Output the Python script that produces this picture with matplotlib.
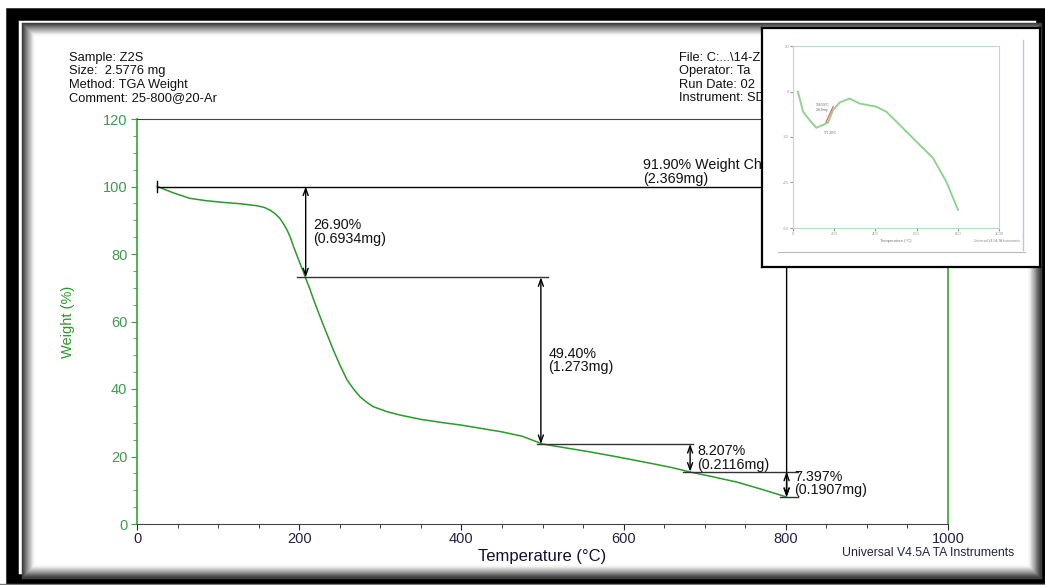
import matplotlib.pyplot as plt
from matplotlib.patches import Rectangle

plt.rcParams['font.family'] = ['Liberation Sans', 'DejaVu Sans']

# datos de la curva TGA (temperatura en C, peso en %)
temp = [25, 45, 65, 85, 106, 127, 148, 157, 164, 170, 176, 180, 185, 189, 193,
        197, 201, 205, 208, 213, 218, 224, 230, 236, 242, 250, 259, 267, 275,
        283, 291, 300, 308, 316, 324, 350, 375, 400, 425, 450, 475, 500, 530,
        560, 592, 633, 660, 682, 710, 740, 770, 801]
peso = [100, 98.1, 96.5, 95.8, 95.3, 94.9, 94.3, 93.8, 93.0, 92.0, 90.6, 89.2,
        87.1, 85.0, 82.2, 79.7, 77.2, 74.8, 72.8, 69.7, 66.3, 62.5, 58.8, 55.2,
        51.6, 47.2, 42.7, 40.0, 37.7, 36.1, 34.8, 34.0, 33.3, 32.8, 32.3, 31.0,
        30.1, 29.3, 28.3, 27.3, 26.0, 23.7, 22.5, 21.3, 19.9, 18.0, 16.7, 15.4,
        14.0, 12.4, 10.3, 8.0]

# pasos de perdida de peso
pasos_x = [208, 498, 682, 801]
pasos_y = [100, 73.1, 23.7, 15.5, 8.0]
pasos_txt = ['26.90%\n(0.6934mg)', '49.40%\n(1.273mg)', '8.207%\n(0.2116mg)', '7.397%\n(0.1907mg)']
total_txt = '91.90% Weight Ch\n(2.369mg)'

# curva DTG del recuadro
dtg_x = [24, 49, 81, 113, 146, 170, 194, 227, 275, 324, 405, 453, 518, 583, 680, 744, 801]
dtg_y = [-0.1, -8.9, -12.6, -15.9, -14.7, -13.6, -8.2, -4.8, -3.1, -5.3, -6.7,
         -8.9, -14.7, -20.6, -29.3, -39.6, -52.0]

cabecera_izq = ['Sample: Z2S', 'Size:  2.5776 mg', 'Method: TGA Weight', 'Comment: 25-800@20-Ar']
cabecera_der = ['File: C:...\\14-Z2S.001', 'Operator: Ta', 'Run Date: 02', 'Instrument: SDT Q600']

W, H = 1045, 585
fig = plt.figure(figsize=(W / 100, H / 100), dpi=100)

# fondo con marcos (coordenadas en pixeles)
bg = fig.add_axes([0, 0, 1, 1], zorder=-1)
bg.set_xlim(0, W)
bg.set_ylim(H, 0)
bg.axis('off')
bg.add_patch(Rectangle((12, 14), 1030, 566, fill=False, ec='black', lw=9))
for i in range(12):
    g = 0.25 + 0.065 * i
    bg.add_patch(Rectangle((23 + i, 24 + i), 1017 - 2 * i, 553 - 2 * i, fill=False,
                           ec=(g, g, g), lw=1.2 if i else 2.5))
bg.plot([0, W], [584, 584], color='#777777', lw=1)

for i, t in enumerate(cabecera_izq):
    bg.text(69, 58 + 13.4 * i, t, fontsize=9.3, va='center', color='#111111')
for i, t in enumerate(cabecera_der):
    bg.text(679, 58 + 13.4 * i, t, fontsize=9.3, va='center', color='#111111')
bg.text(842, 553, 'Universal V4.5A TA Instruments', fontsize=8.8, va='center', color='#222244')

# grafico principal
ax = fig.add_axes([137 / W, (H - 524) / H, 811 / W, 405 / H])
ax.patch.set_alpha(0)
ax.plot(temp, peso, color='#2a9a2a', lw=1.1)
ax.set_xlim(0, 1000)
ax.set_ylim(0, 120)
ax.set_xticks([0, 200, 400, 600, 800, 1000])
ax.set_xticks(range(50, 1000, 50), minor=True)
ax.set_yticks(range(0, 121, 20))
ax.set_yticks(range(0, 121, 5), minor=True)
ax.tick_params(axis='x', colors='#222244', labelsize=10.5, length=4, pad=2)
ax.tick_params(axis='x', which='minor', length=3, color='#222222')
ax.tick_params(axis='y', labelcolor='#3f9a50', color='#3aa33a', labelsize=10.5, length=4, pad=3)
ax.tick_params(axis='y', which='minor', length=3, color='#3aa33a')
for s in ['left', 'right']:
    ax.spines[s].set_color('#2ea82e')
    ax.spines[s].set_linewidth(1.2)
for s in ['top', 'bottom']:
    ax.spines[s].set_color('#444444')
ax.set_xlabel('Temperature (°C)', fontsize=12, color='#111133', labelpad=2)
ax.set_ylabel('Weight (%)', fontsize=10.5, color='#2a9a2a', labelpad=20)

flecha = dict(arrowstyle='<->,head_length=0.5,head_width=0.18', color='black', lw=1,
              shrinkA=0, shrinkB=0)

# linea total
ax.plot([25, 820], [100, 100], color='black', lw=1)
ax.plot([25, 25], [98.5, 101.5], color='black', lw=1)
ax.annotate('', xy=(801, pasos_y[-1]), xytext=(801, 100), arrowprops=flecha)
ax.text(624, 104.3, total_txt, fontsize=10.3, va='center', linespacing=0.95, color='#111111')

# lineas horizontales de cada paso
ax.plot([197, 507], [73.1, 73.1], color='#333333', lw=1)
ax.plot([493, 686], [23.7, 23.7], color='#333333', lw=1)
ax.plot([673, 815], [15.5, 15.5], color='#333333', lw=1)
ax.plot([793, 815], [8.0, 8.0], color='#333333', lw=1)

for i, x in enumerate(pasos_x):
    ax.annotate('', xy=(x, pasos_y[i + 1]), xytext=(x, pasos_y[i]), arrowprops=flecha)
    ax.text(x + 9, (pasos_y[i] + pasos_y[i + 1]) / 2 if i < 3 else 12, pasos_txt[i],
            fontsize=10.3, va='center', linespacing=0.95, color='#111111')

# recuadro superior derecho
caja = fig.add_axes([762 / W, (H - 267) / H, 278 / W, 239 / H], zorder=2)
caja.set_xlim(762, 1040)
caja.set_ylim(267, 28)
caja.set_xticks([])
caja.set_yticks([])
for s in caja.spines.values():
    s.set_linewidth(1.6)
    s.set_color('black')
caja.plot([1023, 1023], [40, 250], color='#b8c8e0', lw=1)
caja.plot([778, 1025], [252, 252], color='#bbbbbb', lw=0.8)
caja.text(896, 242, 'Temperature (°C)', fontsize=3, ha='center', color='#777777')
caja.text(1020, 242, 'Universal V4.5A TA Instruments', fontsize=2.3, ha='right', color='#888888')

ins = fig.add_axes([793 / W, (H - 228) / H, 206 / W, 182 / H], zorder=3)
ins.patch.set_alpha(0)
ins.plot(dtg_x, dtg_y, color='#90d490', lw=1.4)
ins.plot([160, 195], [-13.5, -6.5], color='#e06060', lw=0.8)
ins.text(110, -8.5, '158.59°C\n208.8mg', fontsize=2.3, color='#666666')
ins.text(150, -18.5, '171.20°C', fontsize=2.3, color='#666666')
ins.set_xlim(0, 1000)
ins.set_ylim(-60, 20)
ins.set_xticks([0, 200, 400, 600, 800, 1000])
ins.set_yticks([-60, -40, -20, 0, 20])
ins.set_yticklabels(['-60', '-40', '-20', '0', '20'])
ins.tick_params(labelsize=3, colors='#999999', length=2, pad=1)
for s in ins.spines.values():
    s.set_color('#b8e0b8')

fig.savefig('out.png', dpi=100)
